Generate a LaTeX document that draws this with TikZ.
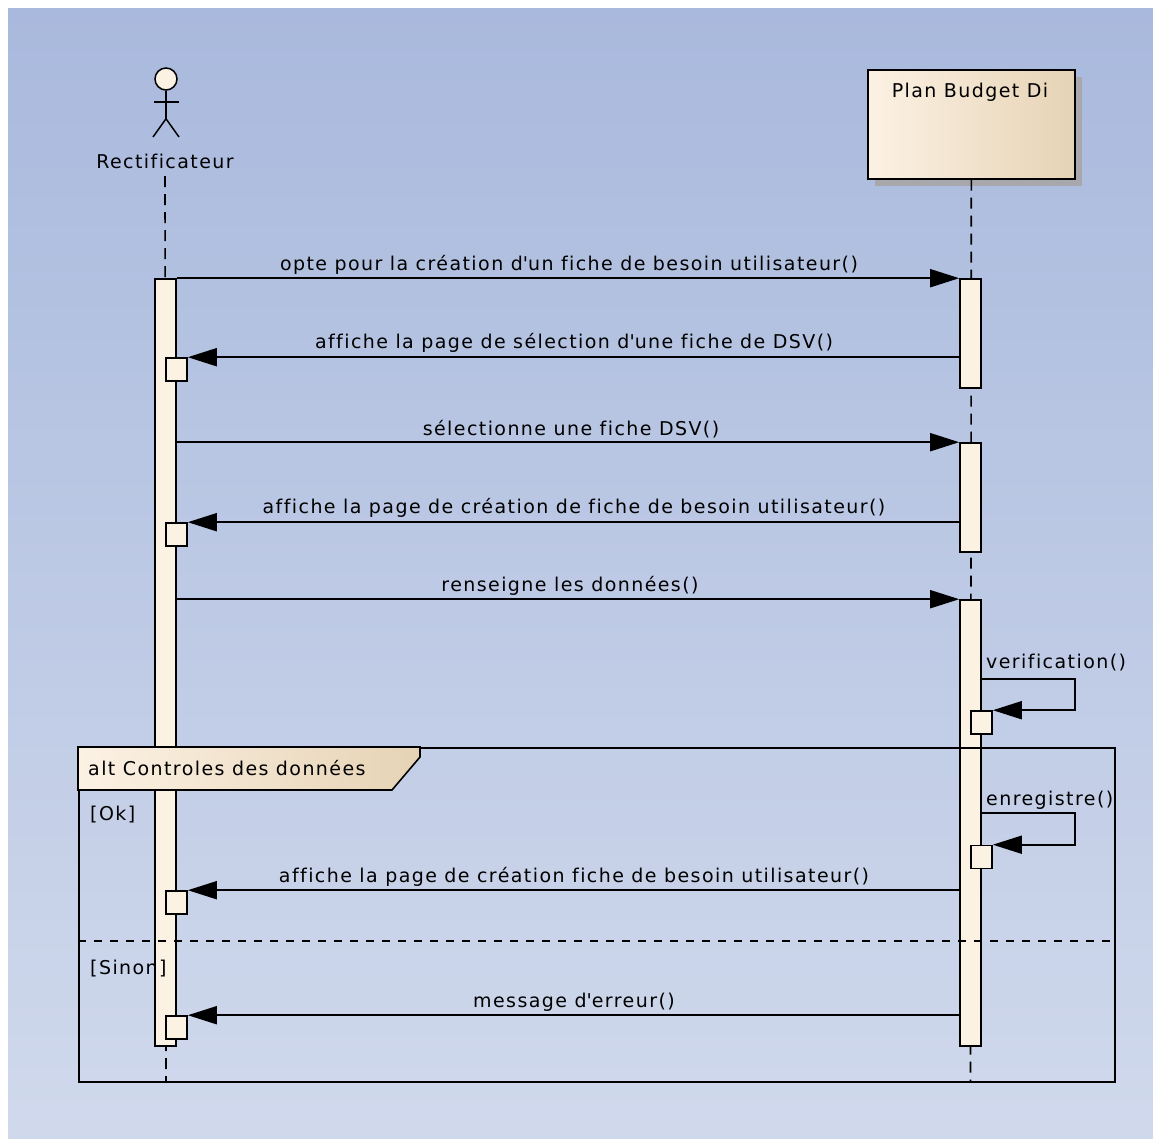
\documentclass[tikz,border=0pt]{standalone}
\usepackage{fontspec}
\newfontfamily\umlfont[LetterSpace=7.5, Ligatures=NoCommon]{DejaVu Sans}
\usetikzlibrary{shadows, positioning, calc, arrows.meta}
\definecolor{bgtop}{RGB}{169, 185, 221}
\definecolor{bgbottom}{RGB}{208, 217, 236}
\definecolor{lifefill}{RGB}{252, 242, 228}
\definecolor{boxtan}{RGB}{230, 211, 181}
\definecolor{shadowgray}{RGB}{168, 168, 172}

\tikzset{
    umltext/.style={font=\umlfont\fontsize{19}{22}\selectfont, inner sep=0pt},
    msglabel/.style={umltext, anchor=base},
    activation/.style={draw, line width=1.6pt, fill=lifefill, minimum width=21pt, inner sep=0pt},
    retbox/.style={draw, line width=1.6pt, fill=lifefill, minimum width=21pt, minimum height=23pt, inner sep=0pt},
    lifeline/.style={line width=1.6pt, dash pattern=on 11pt off 7pt},
    msg/.style={line width=1.8pt, -{Triangle[length=29pt, width=18pt]}},
}

\begin{document}
\begin{tikzpicture}[x=1pt, y=-1pt, line join=miter]
    \useasboundingbox (0,0) rectangle (1153,1138);
    \fill[white] (0,0) rectangle (1153,1138);
    \shade[top color=bgtop, bottom color=bgbottom] (8,8) rectangle (1153,1138);

    % actor and object
    \node[circle, draw, line width=1.5pt, fill=lifefill, minimum size=22pt, inner sep=0pt] (head) at (166,79) {};
    \draw[line width=1.5pt] (head.south) -- ++(0,28) coordinate (hip);
    \draw[line width=1.5pt] (154,102) -- (179,102);
    \draw[line width=1.5pt] (153,137) -- (hip) -- (179,137);
    \node[msglabel] (actorname) at (165,168) {Rectificateur};

    \node[draw, line width=1.6pt, left color=lifefill, middle color=lifefill!85!boxtan, right color=boxtan,
          minimum width=207pt, minimum height=109pt, anchor=north west, inner sep=0pt,
          drop shadow={shadow xshift=7pt, shadow yshift=-7pt, fill=shadowgray, opacity=1}] (plan) at (867,69) {};
    \node[msglabel] (planname) at (970,97) {Plan Budget Di};

    % lifelines
    \coordinate (actorend) at (166,1081);
    \coordinate (planend) at (970.5,1081);
    \draw[lifeline] (actorname.base) ++(0,8) -- (actorend);
    \draw[lifeline] (plan.south) -- (planend);

    % activations
    \node[activation, minimum height=767pt] (actorbar) at (165.5,662.5) {};
    \node[activation, minimum height=109pt] (planbar1) at (970.5,333.5) {};
    \node[activation, minimum height=109pt] (planbar2) at (970.5,497.5) {};
    \node[activation, minimum height=446pt] (planbar3) at (970.5,823) {};

    % combined fragment
    \node[draw, line width=2pt, minimum width=1036pt, minimum height=334pt, anchor=north west, inner sep=0pt] (altframe) at (78,747) {};
    \shadedraw[line width=1.6pt, left color=lifefill, middle color=lifefill!85!boxtan, right color=boxtan]
        (altframe.north west) -- ++(342,0) -- ++(0,10) -- ++(-28,33) -- ++(-314,0) -- cycle;
    \node[umltext, anchor=base west] (altname) at (88,775) {alt Controles des donn\'ees};
    \coordinate (sepleft) at (78,941);
    \draw[line width=1.6pt, dash pattern=on 8pt off 8pt] (sepleft) -- (sepleft -| altframe.east);
    \node[umltext, anchor=base west] (guardok) at (90,820) {[Ok]};
    \node[umltext, anchor=base west] (guardelse) at (90,974) {[Sinon]};

    % return boxes
    \node[retbox] (ret1) at (176.5,369.5) {};
    \node[retbox] (ret2) at (176.5,534.5) {};
    \node[retbox] (ret3) at (176.5,902.5) {};
    \node[retbox] (ret4) at (176.5,1027.5) {};
    \node[retbox] (self1) at (981.5,722.5) {};
    \node[retbox] (self2) at (981.5,857) {};

    % messages
    \draw[msg] (actorbar.north east) -- (planbar1.north west);
    \node[msglabel] (msg1) at (569,270) {opte pour la cr\'eation d\textquotesingle{}un fiche de besoin utilisateur()};
    \draw[msg] (planbar1.west |- ret1.north) -- (ret1.north east);
    \node[msglabel] (msg2) at (574,348) {affiche la page de s\'election d\textquotesingle{}une fiche de DSV()};
    \draw[msg] (actorbar.east |- planbar2.north) -- (planbar2.north west);
    \node[msglabel] (msg3) at (571,435) {s\'electionne une fiche DSV()};
    \draw[msg] (planbar2.west |- ret2.north) -- (ret2.north east);
    \node[msglabel] (msg4) at (574,513) {affiche la page de cr\'eation de fiche de besoin utilisateur()};
    \draw[msg] (actorbar.east |- planbar3.north) -- (planbar3.north west);
    \node[msglabel] (msg5) at (570,591) {renseigne les donn\'ees()};

    \coordinate (loop1) at (1075,679);
    \draw[msg] (planbar3.east |- loop1) -- (loop1) |- (self1.north east);
    \node[umltext, anchor=base west] (msg6) at (986,668) {verification()};
    \coordinate (loop2) at (1075,813);
    \draw[msg] (planbar3.east |- loop2) -- (loop2) |- (self2.north east);
    \node[umltext, anchor=base west] (msg7) at (986,805) {enregistre()};

    \draw[msg] (planbar3.west |- ret3.north) -- (ret3.north east);
    \node[msglabel] (msg8) at (574,882) {affiche la page de cr\'eation fiche de besoin utilisateur()};
    \draw[msg] (planbar3.west |- ret4.north) -- (ret4.north east);
    \node[msglabel] (msg9) at (574,1007) {message d\textquotesingle{}erreur()};
\end{tikzpicture}
\end{document}
